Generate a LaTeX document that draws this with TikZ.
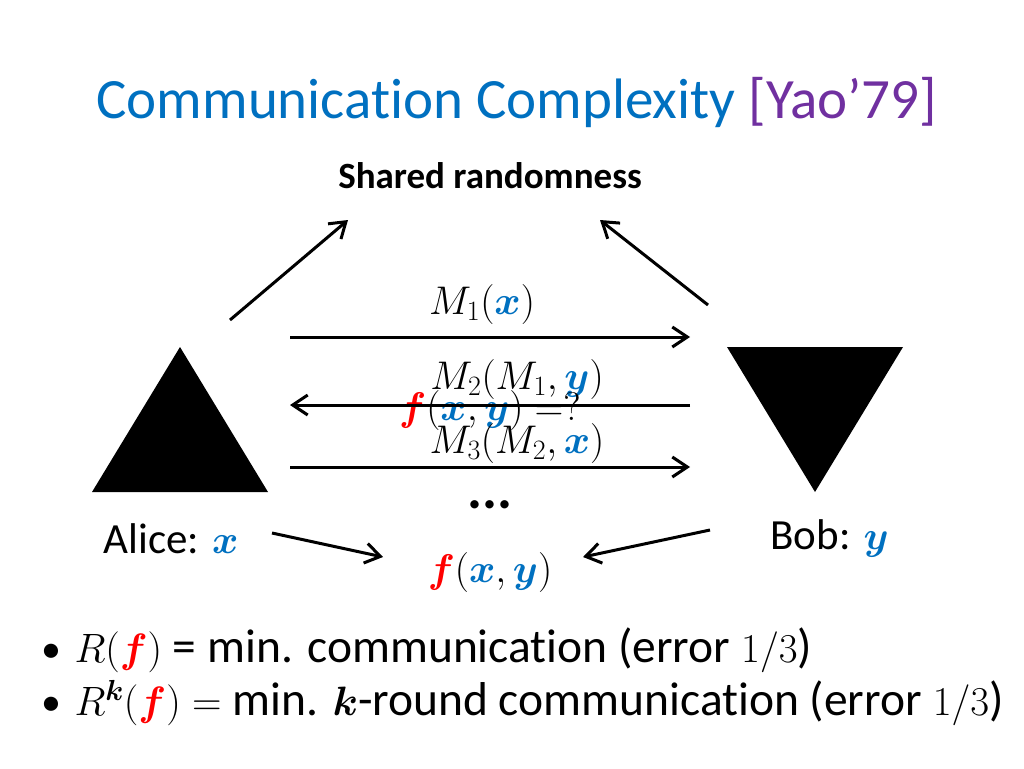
\RequirePackage{fix-cm}
\documentclass[tikz,border=0pt]{standalone}
\usepackage{amsmath}
\usepackage{amssymb}
\usepackage{fontspec}
\setmainfont{Carlito}[Ligatures=NoCommon]
\usetikzlibrary{arrows.meta}
\definecolor{ccblue}{RGB}{0,112,192}
\definecolor{ccpurple}{RGB}{112,48,160}
\definecolor{ccred}{RGB}{255,0,0}
\DeclareMathSizes{43}{40}{28}{20}
\DeclareMathSizes{47.5}{41}{29}{20}
\newcommand{\vx}{\textcolor{ccblue}{\boldsymbol{x}}}
\newcommand{\vy}{\textcolor{ccblue}{\boldsymbol{y}}}
\newcommand{\vf}{\textcolor{ccred}{\boldsymbol{f}}}
\newcommand{\bul}{\makebox[33pt][l]{\fontsize{40}{48}\selectfont\textbullet}}

\begin{document}
\begin{tikzpicture}[x=1pt,y=-1pt,->,line width=3pt,>={Straight Barb[length=15pt,width=20pt]}]
  \tikzstyle{txt}=[inner sep=0pt,anchor=base,font=\fontsize{40}{48}\selectfont]
  \tikzstyle{label}=[txt,anchor=base west,font=\fontsize{43}{50}\selectfont]
  \tikzstyle{bullet}=[txt,anchor=base west,font=\fontsize{47.5}{56}\selectfont]
  \useasboundingbox (0,0) rectangle (1024,768);

  \node[txt,anchor=base west,font=\fontsize{57}{64}\selectfont,text=ccblue] (title) at (95,118)
    {Communication Complexity \textcolor{ccpurple}{[Yao'79]}};
  \node[txt,font=\fontsize{37}{44}\selectfont\bfseries] (shared) at (490,188) {Shared randomness};

  % players
  \fill[-] (92,492) -- (180,347) -- (268,492) -- cycle;
  \fill[-] (727,347) -- (903,347) -- (815,492) -- cycle;
  \node[label] (alice) at (102,553) {Alice: $\vx$};
  \node[label] (bob) at (769,549) {Bob: $\vy$};

  % messages
  \node[txt] (m_1) at (482,314) {$M_1(\vx)$};
  \node[txt] (m_2) at (517,389) {$M_2(M_1,\vy)$};
  \node[txt] (ask) at (490,420) {$\vf(\vx,\vy)=?$};
  \node[txt] (m_3) at (517,453) {$M_3(M_2,\vx)$};
  \node[txt,font=\fontsize{56}{60}\selectfont\bfseries] (dots) at (490,508) {...};
  \node[txt] (out) at (490,582) {$\vf(\vx,\vy)$};

  \coordinate (a_1) at (230,320);  \coordinate (s_1) at (348,220);
  \coordinate (b_1) at (708,305);  \coordinate (s_2) at (600,220);
  \coordinate (l_1) at (290,337);  \coordinate (r_1) at (690,337);
  \coordinate (l_2) at (290,405);  \coordinate (r_2) at (690,405);
  \coordinate (l_3) at (290,467);  \coordinate (r_3) at (690,467);
  \coordinate (a_2) at (272,533);  \coordinate (o_1) at (383,557);
  \coordinate (b_2) at (710,530);  \coordinate (o_2) at (583,557);

  \draw (a_1) -- (s_1);
  \draw (b_1) -- (s_2);
  \draw (l_1) -- (r_1);
  \draw (r_2) -- (l_2);
  \draw (l_3) -- (r_3);
  \draw (a_2) -- (o_1);
  \draw (b_2) -- (o_2);

  % definitions
  \node[bullet] (def_1) at (40,662)
    {\bul$R(\vf)$ = min. communication (error $1/3$)};
  \node[bullet] (def_2) at (40,715)
    {\bul$R^{\boldsymbol{k}}(\vf)=$ min. $\boldsymbol{k}$-round communication (error $1/3$)};
\end{tikzpicture}
\end{document}
